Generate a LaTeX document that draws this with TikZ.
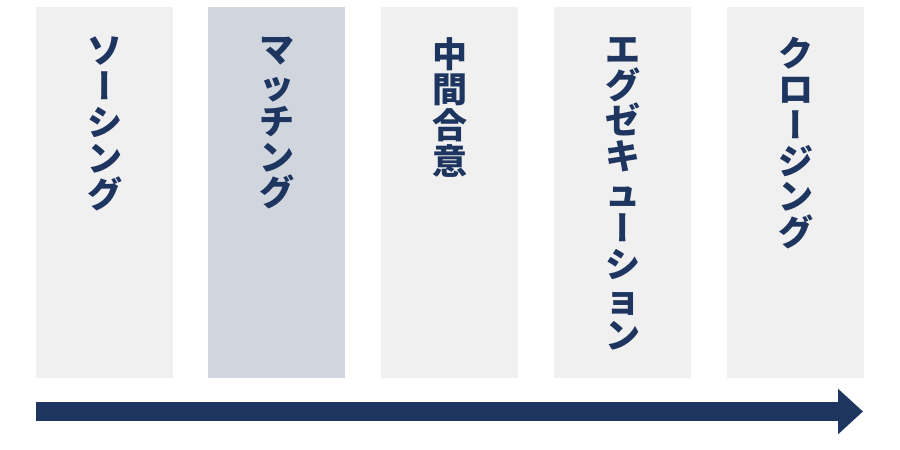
\documentclass[tikz,border=0pt]{standalone}
\usepackage{fontspec}
\usetikzlibrary{arrows.meta}
\newfontfamily\jp{Noto Sans CJK JP}
\newfontfamily\jpv{Noto Sans CJK JP}[RawFeature=+vert]
\newcommand{\vbar}{{\jpv\bfseries ー}}
\definecolor{colbg}{HTML}{F0F0F0}
\definecolor{colhi}{HTML}{D0D5DE}
\definecolor{navy}{HTML}{1E3560}
\tikzset{
  stage/.style={fill=colbg, draw=none, minimum width=137pt, minimum height=371pt, anchor=north west, inner sep=0pt},
  stagehi/.style={stage, fill=colhi},
  vlabel/.style={anchor=north, align=center, text=navy, inner sep=0pt,
    font=\jp\bfseries\fontsize{35}{35.8}\selectfont},
}
\begin{document}
\begin{tikzpicture}[x=1pt,y=-1pt]
\useasboundingbox (0,0) rectangle (900,450);
\node[stage] (s1) at (36,7) {};
\node[stagehi] (s2) at (208,7) {};
\node[stage] (s3) at (381,7) {};
\node[stage] (s4) at (554,7) {};
\node[stage] (s5) at (727,7) {};
\node[vlabel] (t1) at ([yshift=-30pt]s1.north) {ソ\\\vbar\\シ\\ン\\グ};
\node[vlabel] (t2) at ([yshift=-30pt]s2.north) {マ\\ッ\\チ\\ン\\グ};
\node[vlabel] (t3) at ([yshift=-30pt]s3.north) {中\\間\\合\\意};
\node[vlabel] (t4) at ([yshift=-30pt]s4.north) {エ\\グ\\ゼ\\キ\\ュ\\\vbar\\シ\\ョ\\ン};
\node[vlabel] (t5) at ([yshift=-30pt]s5.north) {ク\\ロ\\\vbar\\ジ\\ン\\グ};
\coordinate (astart) at (36,411.5);
\coordinate (aend) at (863,411.5);
\draw[navy, line width=19pt, -{Triangle[length=25pt,width=44pt]}] (astart) -- (aend);
\end{tikzpicture}
\end{document}
